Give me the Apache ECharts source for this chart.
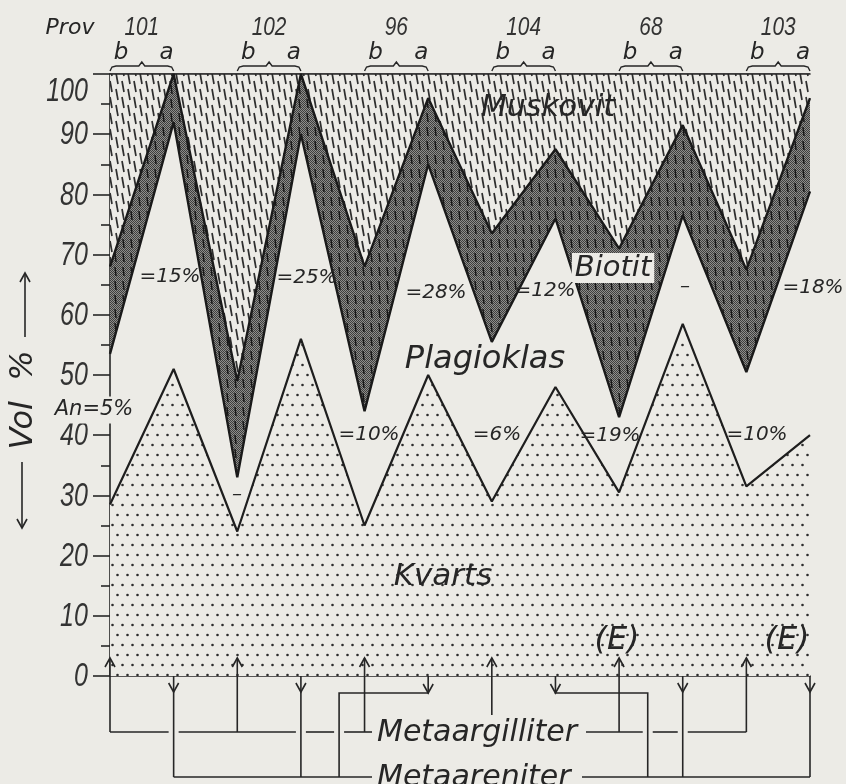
<!DOCTYPE html>
<html>
<head>
<meta charset="utf-8">
<script src="https://cdn.jsdelivr.net/npm/echarts@6/dist/echarts.min.js"></script>
<style>
html, body { margin: 0; padding: 0; background: #ecebe6; }
#chart { width: 846px; height: 784px; }
</style>
</head>
<body>
<div id="chart"></div>
<script>
// prover: b och a för varje prov
const samples = ['101b', '101a', '102b', '102a', '96b', '96a', '104b', '104a', '68b', '68a', '103b', '103a'];
const provNames = ['101', '102', '96', '104', '68', '103'];
// volymprocent per mineral (staplas nerifrån)
const kvarts     = [28.5, 51, 24, 56, 25, 50, 29, 48, 30.5, 58.5, 31.5, 40];
const plagioklas = [25, 41, 9, 34, 19, 35, 26.5, 28, 12.5, 18, 19, 40.5];
const biotit     = [14.5, 8, 16, 10, 24, 11, 18, 11.5, 28, 15, 17, 15.5];
const muskovit   = [32, 0, 51, 0, 32, 4, 26.5, 12.5, 29, 8.5, 32.5, 4];
// anortithalt i plagioklas och värden vid biotitfältet
const anLabels = ['An=5%', '–', '=10%', '=6%', '=19%', '=10%'];
const upperLabels = ['=15%', '=25%', '=28%', '=12%', '–', '=18%'];
const yTicks = [0, 10, 20, 30, 40, 50, 60, 70, 80, 90, 100];

const ink = '#262626';
const bg = '#ecebe6';
const LABEL_FONT = '"DejaVu Sans", sans-serif';
const NUM_FONT = '"Liberation Sans", Arial, sans-serif';

function makePattern(w, h, draw) {
  const c = document.createElement('canvas');
  c.width = w; c.height = h;
  draw(c.getContext('2d'), w, h);
  return { image: c, repeat: 'repeat' };
}
// kvarts: punktraster
const dotFill = makePattern(10, 20, (ctx, w, h) => {
  ctx.fillStyle = bg; ctx.fillRect(0, 0, w, h);
  ctx.fillStyle = '#2c2c2c';
  [[2.5, 5], [7.5, 15]].forEach(([x, y]) => {
    ctx.beginPath(); ctx.arc(x, y, 1.3, 0, Math.PI * 2); ctx.fill();
  });
});
// muskovit: korta streck
const muskFill = makePattern(12, 16, (ctx, w, h) => {
  ctx.fillStyle = bg; ctx.fillRect(0, 0, w, h);
  ctx.strokeStyle = '#2e2e2e'; ctx.lineWidth = 1.7;
  [[2, 1], [8, 9], [8, -7]].forEach(([x, y]) => {
    ctx.beginPath(); ctx.moveTo(x, y); ctx.lineTo(x + 2, y + 11); ctx.stroke();
  });
});
// biotit: mörkt raster med streck
const bioFill = makePattern(8, 14, (ctx, w, h) => {
  ctx.fillStyle = '#8e8e8b'; ctx.fillRect(0, 0, w, h);
  ctx.fillStyle = '#3e3e3e';
  for (let y = 0; y < h; y++) for (let x = 0; x < w; x++) if ((x + y) % 2 === 0) ctx.fillRect(x, y, 1, 1);
  ctx.strokeStyle = '#161616'; ctx.lineWidth = 1.4;
  ctx.beginPath(); ctx.moveTo(3, 1); ctx.lineTo(4, 10); ctx.stroke();
});

const chart = echarts.init(document.getElementById('chart'));

const option = {
  animation: false,
  backgroundColor: bg,
  grid: { left: 110, right: 36, top: 74, bottom: 108 },
  xAxis: [
    {
      type: 'category', data: samples, boundaryGap: false,
      axisLine: { show: true, lineStyle: { color: ink, width: 1.6 } },
      axisTick: { show: false }, axisLabel: { show: false }, splitLine: { show: false }
    },
    {
      type: 'category', data: samples, boundaryGap: false, position: 'top',
      axisLine: { show: true, lineStyle: { color: ink, width: 1.6 } },
      axisTick: { show: false }, axisLabel: { show: false }, splitLine: { show: false }
    }
  ],
  yAxis: {
    type: 'value', min: 0, max: 100, interval: 10,
    axisLine: { show: true, lineStyle: { color: ink, width: 1.6 } },
    axisTick: { show: true, length: 17, lineStyle: { color: ink, width: 1.6 } },
    minorTick: { show: true, splitNumber: 2, length: 9, lineStyle: { color: ink, width: 1.6 } },
    splitLine: { show: false },
    // etiketterna ritas smalare nedan (smal textning som i originalet)
    axisLabel: { show: false }
  },
  series: [
    {
      name: 'Kvarts', type: 'line', stack: 'vol', data: kvarts, symbol: 'none', z: 5,
      lineStyle: { color: '#1e1e1e', width: 2.2 }, areaStyle: { color: dotFill, opacity: 1 }
    },
    {
      name: 'Plagioklas', type: 'line', stack: 'vol', data: plagioklas, symbol: 'none', z: 4,
      lineStyle: { color: '#1a1a1a', width: 2.4 }, areaStyle: { opacity: 0 }
    },
    {
      name: 'Biotit', type: 'line', stack: 'vol', data: biotit, symbol: 'none', z: 3,
      lineStyle: { color: '#1a1a1a', width: 2.4 }, areaStyle: { color: bioFill, opacity: 1 }
    },
    {
      name: 'Muskovit', type: 'line', stack: 'vol', data: muskovit, symbol: 'none', z: 2,
      lineStyle: { color: ink, width: 1.5 }, areaStyle: { color: muskFill, opacity: 1 }
    }
  ]
};
chart.setOption(option);

// --- annoteringar och schemat under axeln ---
const px = i => chart.convertToPixel({ xAxisIndex: 0 }, i);
const py = v => chart.convertToPixel({ yAxisIndex: 0 }, v);

function txt(x, y, s, size, extra) {
  extra = extra || {};
  return {
    type: 'text', x: x, y: y, z: 100, rotation: extra.rotation || 0,
    scaleX: extra.scaleX || 1,
    style: Object.assign({
      text: s, fontFamily: LABEL_FONT, fontStyle: 'italic', fontSize: size, fill: ink,
      align: 'center', verticalAlign: 'middle'
    }, extra.style || {})
  };
}
function seg(points, w) {
  return { type: 'polyline', z: 90, shape: { points: points }, style: { stroke: ink, fill: null, lineWidth: w || 1.6 } };
}
function headUp(x, y) { return seg([[x - 5, y + 9], [x, y], [x + 5, y + 9]]); }
function headDown(x, y) { return seg([[x - 5, y - 9], [x, y], [x + 5, y - 9]]); }
function gappedLine(xa, xb, y, gaps) {
  const out = [];
  let start = xa;
  gaps.slice().sort((a, b) => a - b).forEach(g => {
    out.push(seg([[start, y], [g - 5, y]]));
    start = g + 5;
  });
  out.push(seg([[start, y], [xb, y]]));
  return out;
}

const g = [];
const y0 = py(0);
const y100 = py(100);
const step = px(1) - px(0);

// y-axelns siffror (100 sitter under ramlinjen)
yTicks.forEach(v => {
  g.push(txt(88, py(v) + (v === 100 ? 18 : 1), String(v), 33,
    { scaleX: 0.76, style: { fontFamily: NUM_FONT, align: 'right', fill: '#333' } }));
});

// Prov-rubriker, b/a och klamrar
g.push(txt(70, 28, 'Prov', 22));
provNames.forEach((name, k) => {
  const xb = px(2 * k), xa = px(2 * k + 1), xm = (xb + xa) / 2;
  g.push(txt(xm, 28, name, 26, { scaleX: 0.8, style: { fontFamily: NUM_FONT, fill: '#333' } }));
  g.push(txt(xb + 11, 53, 'b', 23));
  g.push(txt(xa - 7, 53, 'a', 23));
  g.push(seg([[xb, y100 - 3], [xb + 2, y100 - 7], [xb + 6, y100 - 8], [xm - 3, y100 - 8], [xm, y100 - 12],
              [xm + 3, y100 - 8], [xa - 6, y100 - 8], [xa - 2, y100 - 7], [xa, y100 - 3]], 1.4));
});

// Y-axelns rubrik med pilar
g.push(txt(24, 400, 'Vol  %', 32, { rotation: Math.PI / 2 }));
g.push(seg([[25, 337], [25, 273]]));
g.push(headUp(25, 273));
g.push(seg([[22, 462], [22, 528]]));
g.push(headDown(22, 528));

// mineralnamn
g.push(txt(548, 108, 'Muskovit', 30));
g.push(txt(613, 268, 'Biotit', 29, { style: { backgroundColor: bg, padding: [1, 3, 0, 3] } }));
g.push(txt(485, 360, 'Plagioklas', 32));
g.push(txt(443, 577, 'Kvarts', 31));

// procentetiketter
const upperPos = [[170, 277], [307, 278], [436, 293], [545, 291], [685, 287], [813, 288]];
upperLabels.forEach((s, k) => g.push(txt(upperPos[k][0], upperPos[k][1], s, 20)));
const anPos = [[94, 410], [237, 495], [369, 435], [497, 435], [610, 436], [757, 435]];
anLabels.forEach((s, k) => g.push(txt(anPos[k][0], anPos[k][1], s, k === 0 ? 21 : 20,
  k === 0 ? { style: { backgroundColor: bg, padding: [3, 1, 3, 1] } } : undefined)));

// (E) markeringar
g.push(txt(617, 641, '(E)', 32));
g.push(txt(787, 641, '(E)', 32));

// schema: Metaargilliter / Metaareniter
const yArg = y0 + 56, yAre = y0 + 101, yJog = y0 + 17;
const upTip = y0 - 18, downTip = y0 + 16;
const jogL = px(3) + 0.6 * step, jogR = px(7) + 1.45 * step;
const argTextL = 377, argTextR = 586, areTextL = 377, areTextR = 582;

samples.forEach((s, i) => {
  const x = px(i);
  if (i % 2 === 0) {
    const from = (x > argTextL && x < argTextR) ? yArg - 17 : yArg;
    g.push(seg([[x, from], [x, upTip]]));
    g.push(headUp(x, upTip));
  } else if (i === 5 || i === 7) {
    const jx = i === 5 ? jogL : jogR;
    g.push(seg([[x, y0], [x, yJog], [jx, yJog], [jx, yAre]]));
    g.push(headDown(x, yJog));
  } else {
    g.push(seg([[x, y0], [x, yAre]]));
    g.push(headDown(x, downTip));
  }
});
gappedLine(px(0), argTextL - 5, yArg, [px(1), px(3), jogL]).forEach(e => g.push(e));
gappedLine(argTextR, px(10), yArg, [jogR, px(9)]).forEach(e => g.push(e));
g.push(seg([[px(1), yAre], [areTextL - 5, yAre]]));
g.push(seg([[areTextR, yAre], [px(11), yAre]]));
g.push(txt(argTextL, yArg + 1, 'Metaargilliter', 30, { style: { align: 'left' } }));
g.push(txt(areTextL, yAre + 1, 'Metaareniter', 30, { style: { align: 'left' } }));

chart.setOption({ graphic: { elements: g } });
</script>
</body>
</html>
